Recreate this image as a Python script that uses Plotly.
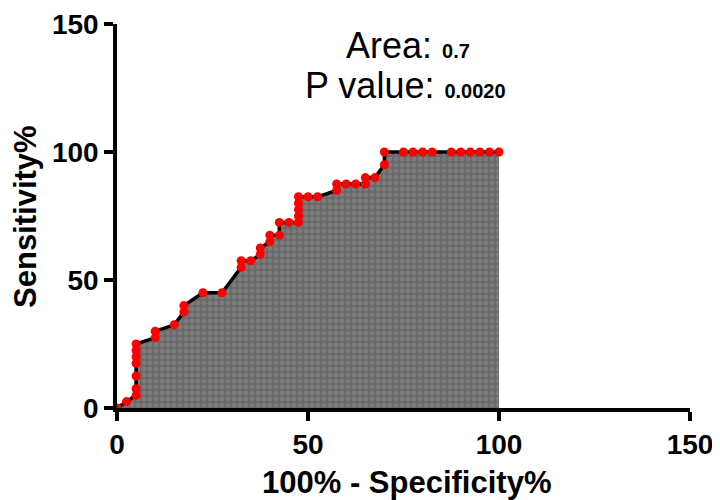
import plotly.graph_objects as go

fpr = [0, 2.5, 5, 5, 5, 5, 5, 5, 5, 10, 10, 15, 17.5, 17.5, 22.5, 27.5, 32.5, 32.5, 35,
       37.5, 37.5, 40, 40, 42.5, 42.5, 45, 47.5, 47.5, 47.5, 47.5, 47.5, 50, 52.5, 57.5,
       57.5, 60, 62.5, 65, 65, 67.5, 70, 70, 75, 77.5, 80, 82.5, 87.5, 90, 92.5, 95, 97.5, 100]
sens = [0, 2.5, 5, 7.5, 12.5, 17.5, 20, 22.5, 25, 27.5, 30, 32.5, 37.5, 40, 45, 45, 55, 57.5, 57.5,
        60, 62.5, 65, 67.5, 67.5, 72.5, 72.5, 72.5, 75, 77.5, 80, 82.5, 82.5, 82.5, 85,
        87.5, 87.5, 87.5, 87.5, 90, 90, 95, 100, 100, 100, 100, 100, 100, 100, 100, 100, 100, 100]
area_text = "0.7"
p_text = "0.0020"
x_ticks = [0, 50, 100, 150]
y_ticks = [0, 50, 100, 150]

FONT = "Liberation Sans, Arial, sans-serif"

fig = go.Figure()
fig.add_trace(go.Scatter(
    x=fpr, y=sens, mode="lines", fill="tozeroy",
    fillcolor="#6e6e6e",
    fillpattern=dict(shape=".", bgcolor="#686868", fgcolor="#8e8e8e", size=6, solidity=0.5),
    line=dict(color="black", width=3.5), hoverinfo="skip", showlegend=False))
fig.add_trace(go.Scatter(
    x=fpr, y=sens, mode="markers",
    marker=dict(color="#ff0000", size=9, line=dict(width=0)),
    showlegend=False, cliponaxis=False))

fig.add_annotation(x=0.508, y=0.945, xref="paper", yref="paper", showarrow=False,
                   xanchor="center", yanchor="middle",
                   text="Area: <b><span style='font-size:20px'>" + area_text + "</span></b>",
                   font=dict(family=FONT, size=36, color="black"))
fig.add_annotation(x=0.503, y=0.839, xref="paper", yref="paper", showarrow=False,
                   xanchor="center", yanchor="middle",
                   text="P value: <b><span style='font-size:20px'>" + p_text + "</span></b>",
                   font=dict(family=FONT, size=36, color="black"))
fig.add_annotation(x=0.505, y=-0.193, xref="paper", yref="paper", showarrow=False,
                   xanchor="center", yanchor="middle",
                   text="<b>100% - Specificity%</b>",
                   font=dict(family=FONT, size=31, color="black"))
fig.add_annotation(x=-0.1606, y=0.5, xref="paper", yref="paper", showarrow=False,
                   xanchor="center", yanchor="middle", textangle=-90,
                   text="<b>Sensitivity%</b>",
                   font=dict(family=FONT, size=31, color="black"))

axis_common = dict(showgrid=False, zeroline=False, showline=True, linecolor="black",
                   linewidth=3.5, ticks="outside", ticklen=9, tickwidth=3.5, tickcolor="black",
                   automargin=False,
                   tickfont=dict(family=FONT, size=28, color="black", weight="bold"))
fig.update_xaxes(range=[0, 150], tickvals=x_ticks, ticktext=[str(v) for v in x_ticks],
                 **axis_common)
fig.update_yaxes(range=[0, 150], tickvals=y_ticks, ticktext=[str(v) for v in y_ticks],
                 **axis_common)
fig.update_layout(width=712, height=492, margin=dict(l=109, r=30, t=16, b=92),
                  plot_bgcolor="white", paper_bgcolor="white")
fig.write_html("out.html")
